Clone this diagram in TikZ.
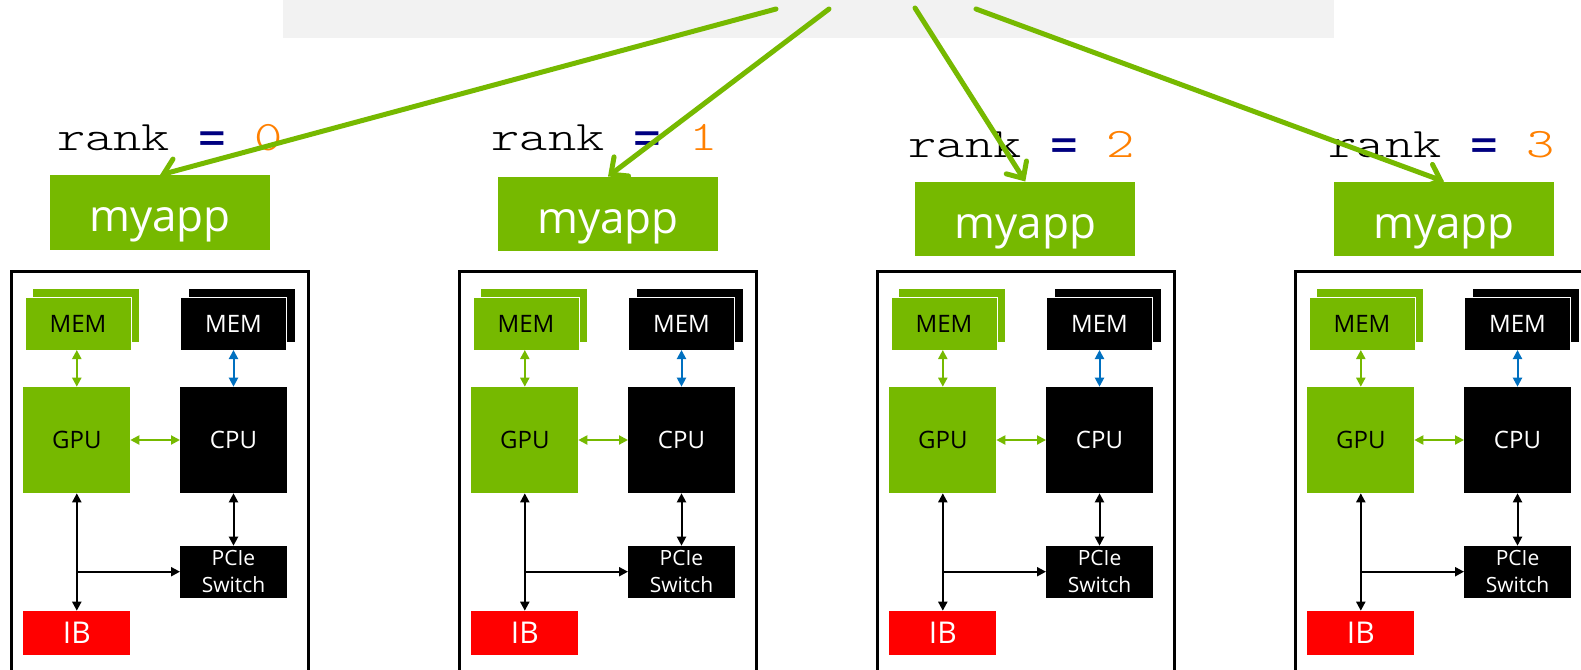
\documentclass[tikz,border=0pt]{standalone}
\usepackage{fontspec}
\usepackage{graphicx}
\setmainfont{Open Sans}
\setmonofont{Latin Modern Mono Light}
\newfontfamily\codefont{Liberation Mono}
\usetikzlibrary{arrows.meta}
\definecolor{nvgreen}{HTML}{76B900}
\definecolor{rankorange}{HTML}{FF8000}
\definecolor{ranknavy}{HTML}{000080}
\definecolor{memblue}{HTML}{0070C0}
\definecolor{barg}{HTML}{F2F2F2}
\definecolor{ibred}{HTML}{FF0000}
\newcommand{\rankeq}{{\codefont\bfseries\color{ranknavy}\fontsize{36}{40}\selectfont=}}
\begin{document}
\begin{tikzpicture}[x=1pt,y=-1pt,
  appbox/.style={fill=nvgreen, text=white, inner sep=0pt, outer sep=0pt,
    minimum width=220pt, minimum height=74.5pt, anchor=north west,
    font=\fontsize{44}{50}\selectfont, text height=38.5pt, text depth=0pt},
  ranklabel/.style={anchor=base west, inner sep=0pt, font=\ttfamily\fontsize{42}{44}\selectfont},
  bigarrow/.style={draw=nvgreen, line width=5pt, line cap=round,
    -{Straight Barb[length=13pt,width=24pt,line cap=round]}},
  hostbox/.style={draw=black, line width=3pt, inner sep=0pt, outer sep=0pt, anchor=north west,
    minimum width=297.3pt, minimum height=430pt},
  chip/.style={inner sep=0pt, outer sep=0pt, anchor=north west, minimum width=107pt,
    font=\fontsize{24}{28}\selectfont},
  memback/.style={inner sep=0pt, outer sep=0pt, anchor=north west, minimum width=106pt, minimum height=52.7pt},
  memfront/.style={memback, draw=white, line width=1pt, font=\fontsize{24}{28}\selectfont},
  link/.style={line width=2pt, {Triangle[length=9pt,width=9pt]}-{Triangle[length=9pt,width=9pt]}},
  onelink/.style={line width=2pt, -{Triangle[length=9pt,width=9pt]}}
]
\clip (0,0) rectangle (1581,669);
\fill[white] (0,0) rectangle (1581,669);

% top bar
\node[fill=barg, anchor=north west, inner sep=0pt, outer sep=0pt,
  minimum width=1051pt, minimum height=37.7pt] (bar) at (283,0) {};

% rank labels
\node[ranklabel] (rank0) at (57,150) {\scalebox{1.28}[1]{rank \makebox[0.525em]{\rankeq} {\color{rankorange}0}}};
\node[ranklabel] (rank1) at (491.5,150.5) {\scalebox{1.28}[1]{rank \makebox[0.525em]{\rankeq} {\color{rankorange}1}}};
\node[ranklabel] (rank2) at (908.5,157.3) {\scalebox{1.28}[1]{rank \makebox[0.525em]{\rankeq} {\color{rankorange}2}}};
\node[ranklabel] (rank3) at (1328.5,157.5) {\scalebox{1.28}[1]{rank \makebox[0.525em]{\rankeq} {\color{rankorange}3}}};

% myapp boxes
\node[appbox] (app0) at (50,175) {myapp};
\node[appbox] (app1) at (498,176.5) {myapp};
\node[appbox] (app2) at (915.3,181.5) {myapp};
\node[appbox] (app3) at (1334,181.5) {myapp};

% arrows from the bar
\coordinate (s0) at (776,9);
\coordinate (s1) at (829,9);
\coordinate (s2) at (915,8);
\coordinate (s3) at (976,9);
\draw[bigarrow] (s0) -- (app0.north);
\draw[bigarrow] (s1) -- (app1.north);
\draw[bigarrow] (s2) -- (app2.north);
\draw[bigarrow] (s3) -- (app3.north);

% host boxes
\foreach \i/\C in {0/11,1/459,2/877,3/1295}{
  \node[hostbox] (host\i) at (\C,271.7) {};
  \node[memback, fill=nvgreen] (memgb\i) at (\C+22.3,289.3) {};
  \node[memfront, fill=nvgreen, text=black] (memg\i) at (\C+14,297.3) {MEM};
  \node[memback, fill=black] (memcb\i) at (\C+178,289.3) {};
  \node[memfront, fill=black, text=white] (memc\i) at (\C+169.5,297.3) {MEM};
  \node[chip, fill=nvgreen, text=black, minimum height=106.6pt] (gpu\i) at (\C+12.3,386.7) {GPU};
  \node[chip, fill=black, text=white, minimum height=106.6pt] (cpu\i) at (\C+169,386.7) {CPU};
  \node[chip, fill=black, text=white, minimum height=52pt, align=center,
    font=\fontsize{21}{26.7}\selectfont] (pcie\i) at (\C+169,545.7) {PCIe\\Switch};
  \node[chip, fill=ibred, text=white, minimum height=44.3pt,
    font=\fontsize{30}{32}\selectfont] (ib\i) at (\C+12.3,610.7) {IB};
  \draw[link, nvgreen] (gpu\i.north |- memg\i.south) -- (gpu\i.north);
  \draw[link, memblue] (cpu\i.north |- memc\i.south) -- (cpu\i.north);
  \draw[link, nvgreen] (gpu\i) -- (cpu\i);
  \draw[link, black] (gpu\i.south) -- (ib\i.north);
  \draw[link, black] (cpu\i.south) -- (pcie\i.north);
  \coordinate (j\i) at (gpu\i.south |- pcie\i.west);
  \draw[onelink, black] (j\i) -- (pcie\i.west);
}
\end{tikzpicture}
\end{document}
